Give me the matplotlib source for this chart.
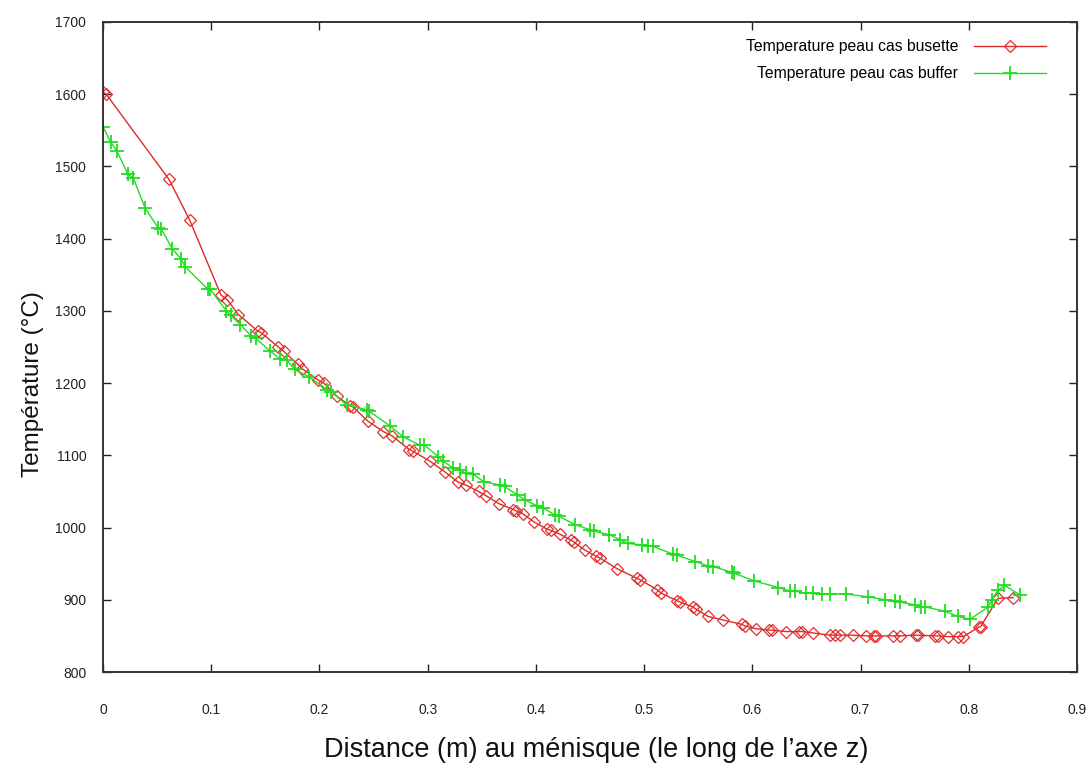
from matplotlib import pyplot as plt
import numpy as np

# distance au menisque (m) / temperature peau (degC)
distBusette = [0.000, 0.003, 0.061, 0.080, 0.109, 0.115, 0.125, 0.143, 0.146, 0.162,
               0.167, 0.180, 0.184, 0.199, 0.204, 0.216, 0.228, 0.231, 0.245, 0.259,
               0.267, 0.283, 0.286, 0.302, 0.316, 0.328, 0.335, 0.347, 0.354, 0.366,
               0.379, 0.382, 0.388, 0.398, 0.410, 0.414, 0.422, 0.432, 0.435, 0.445,
               0.456, 0.459, 0.475, 0.493, 0.496, 0.512, 0.516, 0.530, 0.533, 0.545,
               0.548, 0.559, 0.573, 0.590, 0.593, 0.603, 0.615, 0.618, 0.631, 0.643,
               0.646, 0.656, 0.672, 0.676, 0.681, 0.693, 0.705, 0.712, 0.714, 0.730,
               0.736, 0.751, 0.753, 0.769, 0.772, 0.781, 0.790, 0.795, 0.809, 0.811,
               0.827, 0.841]
tempBusette = [1603, 1600, 1482, 1426, 1322, 1315, 1295, 1272, 1270, 1250,
               1244, 1226, 1220, 1204, 1200, 1182, 1169, 1167, 1147, 1133,
               1127, 1108, 1106, 1092, 1077, 1063, 1059, 1050, 1044, 1033,
               1025, 1023, 1019, 1008, 998, 996, 991, 983, 980, 969,
               960, 958, 943, 930, 928, 914, 909, 899, 897, 890,
               887, 877, 872, 866, 864, 860, 858, 858, 856, 856,
               856, 854, 851, 851, 851, 851, 850, 850, 850, 850,
               850, 851, 851, 850, 850, 849, 849, 849, 862, 863,
               902, 903]

distBuffer = [0.000, 0.007, 0.013, 0.023, 0.028, 0.039, 0.051, 0.054, 0.064, 0.072,
              0.076, 0.097, 0.099, 0.114, 0.118, 0.127, 0.137, 0.141, 0.154, 0.164,
              0.170, 0.177, 0.190, 0.207, 0.211, 0.225, 0.244, 0.246, 0.265, 0.277,
              0.293, 0.297, 0.310, 0.314, 0.323, 0.330, 0.335, 0.342, 0.352, 0.367,
              0.371, 0.383, 0.390, 0.401, 0.407, 0.418, 0.421, 0.436, 0.450, 0.454,
              0.468, 0.478, 0.485, 0.498, 0.504, 0.508, 0.527, 0.530, 0.547, 0.559,
              0.564, 0.581, 0.583, 0.602, 0.624, 0.635, 0.639, 0.650, 0.656, 0.664,
              0.672, 0.687, 0.707, 0.723, 0.732, 0.736, 0.750, 0.756, 0.760, 0.778,
              0.790, 0.801, 0.818, 0.821, 0.827, 0.833, 0.847]
tempBuffer = [1555, 1534, 1521, 1489, 1484, 1442, 1415, 1413, 1386, 1372,
              1361, 1330, 1330, 1300, 1294, 1281, 1265, 1262, 1245, 1233,
              1232, 1219, 1209, 1191, 1188, 1170, 1163, 1161, 1141, 1126,
              1114, 1114, 1098, 1092, 1083, 1080, 1075, 1074, 1063, 1059,
              1057, 1045, 1038, 1030, 1027, 1017, 1016, 1004, 997, 995,
              990, 983, 978, 976, 975, 974, 963, 962, 953, 947,
              946, 938, 937, 926, 917, 912, 912, 909, 909, 908,
              908, 908, 904, 900, 899, 897, 893, 890, 890, 884,
              877, 873, 890, 900, 913, 920, 907]

xTicks = [0, 0.1, 0.2, 0.3, 0.4, 0.5, 0.6, 0.7, 0.8, 0.9]
xTickLabels = ["0", "0.1", "0.2", "0.3", "0.4", "0.5", "0.6", "0.7", "0.8", "0.9"]
yTicks = list(range(800, 1701, 100))

labelBusette = "Temperature peau cas busette"
labelBuffer = "Temperature peau cas buffer"

tickFont = ['Liberation Sans Narrow', 'Liberation Sans', 'DejaVu Sans']
mainFont = ['Liberation Sans', 'DejaVu Sans']

fig = plt.figure(figsize=(10.92, 7.69), dpi=100)
ax = fig.add_axes([103 / 1092, 1 - 672 / 769, (1077 - 103) / 1092, (672 - 22) / 769])

ax.plot(distBusette, tempBusette, color="#dd2a2a", linewidth=1.0, marker="D",
        markersize=6.5, markerfacecolor="none", markeredgecolor="#e03030",
        markeredgewidth=0.9, label=labelBusette)
ax.plot(distBuffer, tempBuffer, color="#22dd22", linewidth=1.0, marker="+",
        markersize=10, markeredgewidth=1.3, label=labelBuffer)

##--Plot formatting--##
ax.set_xlim(0, 0.9)
ax.set_ylim(800, 1700)
ax.set_xticks(xTicks)
ax.set_xticklabels(xTickLabels)
ax.set_yticks(yTicks)
ax.tick_params(direction="in", length=6, width=1, top=True, right=True, colors="#222222")
ax.tick_params(axis="x", pad=22)
ax.tick_params(axis="y", pad=12)
for lab in ax.get_xticklabels() + ax.get_yticklabels():
    lab.set_family(tickFont)
    lab.set_fontsize(10)
    lab.set_color("#222222")
for spine in ax.spines.values():
    spine.set_linewidth(1.4)
    spine.set_color("#333333")

ax.set_xlabel("Distance (m) au ménisque (le long de l\u2019axe z)", family=mainFont,
              fontsize=19.5, color="#111111")
ax.set_ylabel("Température (°C)", family=mainFont, fontsize=17.5, color="#111111")
ax.xaxis.set_label_coords(0.506, -0.10)   # label placed well below the tick labels
ax.yaxis.set_label_coords(-0.061, 0.443)

leg = ax.legend(loc="upper right", bbox_to_anchor=(0.983, 0.995), frameon=False,
                markerfirst=False, handlelength=4.6, handletextpad=1.0,
                labelspacing=0.75, prop={"family": mainFont, "size": 11.3})
##--End of plot formatting--##

fig.savefig("out.png", dpi=100)
